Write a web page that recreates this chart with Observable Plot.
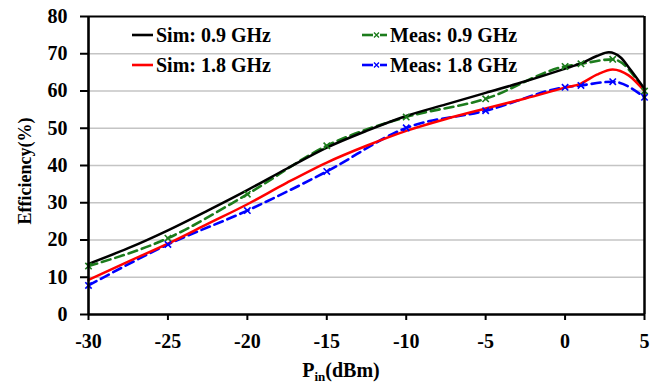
<!DOCTYPE html>
<html><head><meta charset="utf-8">
<script src="https://cdn.jsdelivr.net/npm/d3@7"></script>
<script src="https://cdn.jsdelivr.net/npm/@observablehq/plot@0.6"></script>
<style>
body{margin:0;background:#fff;}
#chart{position:relative;width:670px;height:383px;}
</style></head><body><div id="chart"></div>
<script>
// ---- data ----
const simX   = [-30, -27.5, -25, -22.5, -20, -17.5, -15, -12.5, -10, -7.5, -5, -2.5, 0, 1, 2, 2.75, 3.5, 4, 5];
const sim09  = [13.6, 17.8, 22.6, 27.9, 33.4, 39.2, 44.8, 49.3, 53.3, 56.4, 59.5, 62.6, 66.0, 67.4, 69.4, 70.4, 69.0, 66.4, 60.6];
const sim18X = [-30, -27.5, -25, -22.5, -20, -17.5, -15, -12.5, -10, -7.5, -5, -2.5, 0, 1, 2, 3, 4, 5];
const sim18  = [9.3, 14.2, 19.0, 24.3, 29.6, 35.4, 40.8, 45.3, 49.3, 52.5, 55.3, 58.0, 60.9, 62.0, 64.4, 65.8, 64.2, 60.0];
const measX  = [-30, -25, -20, -15, -10, -5, 0, 1, 3, 5];
const meas09 = [13.0, 20.5, 32.3, 45.3, 53.0, 57.9, 66.6, 67.3, 68.5, 60.0];
const meas18 = [7.8, 18.8, 27.9, 38.4, 50.1, 54.7, 61.0, 61.5, 62.5, 58.3];
const xTicks = [-30, -25, -20, -15, -10, -5, 0, 5];
const yTicks = [0, 10, 20, 30, 40, 50, 60, 70, 80];
const seriesNames = ["Sim: 0.9 GHz", "Sim: 1.8 GHz", "Meas: 0.9 GHz", "Meas: 1.8 GHz"];
const seriesColors = ["#000000", "#ff0000", "#1c7c1c", "#0000ff"];
const xLabelMain = "P", xLabelSub = "in", xLabelUnit = "(dBm)";
const yLabel = "Efficiency(%)";

const rows = (xs, ys, name) => xs.map((x, i) => ({x, y: ys[i], name}));
const dSim09 = rows(simX, sim09, seriesNames[0]);
const dSim18 = rows(sim18X, sim18, seriesNames[1]);
const dMeas09 = rows(measX, meas09, seriesNames[2]);
const dMeas18 = rows(measX, meas18, seriesNames[3]);

const font = "'Liberation Serif','Times New Roman',serif";
const W = 670, H = 383;
const mL = 88, mR = 26, mT = 16, mB = 69;

const plot = Plot.plot({
  width: W, height: H,
  marginLeft: mL, marginRight: mR, marginTop: mT, marginBottom: mB,
  x: {domain: [-30, 5]},
  y: {domain: [0, 80]},
  style: {fontFamily: font, fontWeight: "bold", fontSize: "20px", background: "#fff", color: "#000", overflow: "visible"},
  marks: [
    Plot.gridY(yTicks.filter(d => d > 0 && d < 80), {stroke: "#c4c4c4", strokeOpacity: 1, strokeWidth: 1.5}),
    Plot.line(dMeas18, {x: "x", y: "y", stroke: seriesColors[3], strokeWidth: 2.6, strokeDasharray: "9,5", curve: "monotone-x"}),
    Plot.line(dMeas09, {x: "x", y: "y", stroke: seriesColors[2], strokeWidth: 2.6, strokeDasharray: "9,5", curve: "monotone-x"}),
    Plot.line(dSim18, {x: "x", y: "y", stroke: seriesColors[1], strokeWidth: 2.5, curve: "monotone-x"}),
    Plot.line(dSim09, {x: "x", y: "y", stroke: seriesColors[0], strokeWidth: 2.5, curve: "monotone-x"}),
    Plot.dot(dMeas09, {x: "x", y: "y", symbol: "times", r: 3, stroke: seriesColors[2], strokeWidth: 1.6}),
    Plot.dot(dMeas18, {x: "x", y: "y", symbol: "times", r: 3, stroke: seriesColors[3], strokeWidth: 1.6}),
    Plot.ruleY([80], {stroke: "#000", strokeWidth: 2}),
    Plot.ruleX([5], {stroke: "#000", strokeWidth: 2.5}),
    Plot.ruleX([-30], {stroke: "#000", strokeWidth: 2.6}),
    Plot.ruleY([0], {stroke: "#000", strokeWidth: 2.6}),
    Plot.axisX({ticks: xTicks, tickFormat: d => String(d), tickSize: 6, tickPadding: 13, strokeWidth: 2, label: null}),
    Plot.axisY({ticks: yTicks, tickFormat: d => String(d), tickSize: 8, tickPadding: 13, strokeWidth: 2, label: null})
  ]
});
document.getElementById("chart").appendChild(plot);

const svg = d3.select(plot);
// axis titles
const xl = svg.append("text")
  .attr("x", 341).attr("y", 377)
  .attr("text-anchor", "middle")
  .style("font-family", font).style("font-weight", "bold").style("font-size", "20px");
xl.append("tspan").text(xLabelMain);
xl.append("tspan").attr("dy", 4).style("font-size", "13px").text(xLabelSub);
xl.append("tspan").attr("dy", -4).text(xLabelUnit);

svg.append("text")
  .attr("transform", "translate(25,171) rotate(-90)")
  .attr("text-anchor", "middle")
  .attr("dominant-baseline", "central")
  .style("font-family", font).style("font-weight", "bold").style("font-size", "18px")
  .text(yLabel);

// legend
const colX = [132, 362], rowY = [35, 65];
const lg = svg.append("g").attr("text-anchor", "start");
seriesNames.forEach((name, i) => {
  const isMeas = i >= 2;
  const cx = colX[isMeas ? 1 : 0], cy = rowY[i % 2];
  const len = isMeas ? 25 : 21;
  if (isMeas) {
    lg.append("line").attr("x1", cx).attr("x2", cx + 11).attr("y1", cy).attr("y2", cy)
      .attr("stroke", seriesColors[i]).attr("stroke-width", 2.6);
    lg.append("line").attr("x1", cx + 18).attr("x2", cx + len).attr("y1", cy).attr("y2", cy)
      .attr("stroke", seriesColors[i]).attr("stroke-width", 2.6);
    const m = cx + 14.5;
    lg.append("path").attr("d", `M${m-2.5},${cy-2.5}L${m+2.5},${cy+2.5}M${m-2.5},${cy+2.5}L${m+2.5},${cy-2.5}`)
      .attr("stroke", seriesColors[i]).attr("stroke-width", 1.4).attr("fill", "none");
  } else {
    lg.append("line").attr("x1", cx).attr("x2", cx + len).attr("y1", cy).attr("y2", cy)
      .attr("stroke", seriesColors[i]).attr("stroke-width", 2.6);
  }
  lg.append("text").attr("x", cx + len + 3).attr("y", cy)
    .attr("text-anchor", "start")
    .attr("dominant-baseline", "central")
    .style("font-family", font).style("font-weight", "bold").style("font-size", "20px")
    .text(name);
});
</script></body></html>
